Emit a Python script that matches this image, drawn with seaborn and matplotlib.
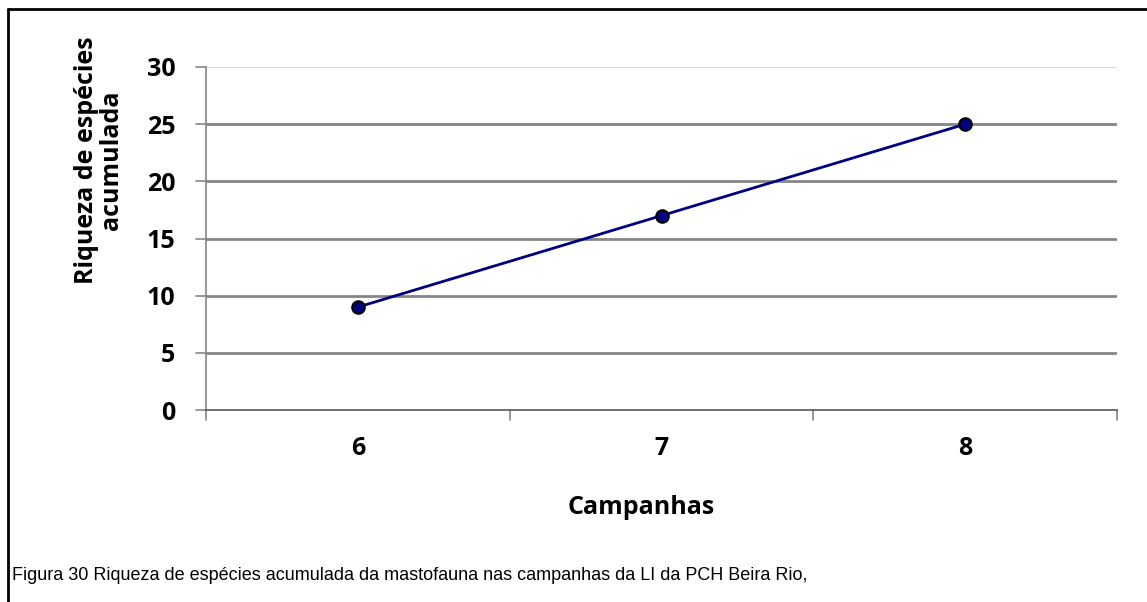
import matplotlib
matplotlib.use("Agg")
import matplotlib.pyplot as plt
import seaborn as sns
import pandas as pd
from matplotlib.lines import Line2D

# chart data
campanhas = ["6", "7", "8"]
riqueza = [9, 17, 25]
y_ticks = [0, 5, 10, 15, 20, 25, 30]

df = pd.DataFrame({"Campanhas": campanhas, "Riqueza": riqueza})

sns.set_theme(style="white")
plt.rcParams["font.family"] = ["Open Sans", "DejaVu Sans"]
plt.rcParams["text.color"] = "black"
plt.rcParams["xtick.color"] = "black"
plt.rcParams["ytick.color"] = "black"

fig = plt.figure(figsize=(11.47, 6.02), dpi=100)
ax = fig.add_axes([206 / 1147, 1 - 410 / 602, 911 / 1147, 343 / 602])

# horizontal grid lines (top one lighter, like the original)
for y in y_ticks[1:-1]:
    ax.axhline(y, color="#868686", linewidth=2, zorder=1)
ax.axhline(30, color="#d9d9d9", linewidth=1.5, zorder=1)

sns.lineplot(data=df, x="Campanhas", y="Riqueza", ax=ax, color="#000080",
             linewidth=2, marker="o", markersize=9, markerfacecolor="#000080",
             markeredgecolor="black", markeredgewidth=1.5, zorder=3)

ax.set_xlim(-0.5, 2.5)
ax.set_ylim(0, 30)
ax.set_yticks(y_ticks)
ax.set_xticks(range(len(campanhas)))
ax.set_xticklabels(campanhas)
ax.tick_params(axis="both", labelsize=18, length=0, labelcolor="black")
ax.tick_params(axis="y", pad=22)
ax.tick_params(axis="x", pad=19)
for lab in ax.get_xticklabels() + ax.get_yticklabels():
    lab.set_fontweight("bold")

# category separator ticks on the x axis and y ticks outside
for xb in [-0.5, 0.5, 1.5, 2.5]:
    ax.plot([xb, xb], [0, -0.9], color="#868686", linewidth=1.2, clip_on=False)
for y in y_ticks:
    ax.plot([-0.5 - 0.033, -0.5], [y, y], color="#868686", linewidth=1.2, clip_on=False)

for side in ["top", "right"]:
    ax.spines[side].set_visible(False)
ax.spines["left"].set_color("#868686")
ax.spines["left"].set_linewidth(1.2)
ax.spines["bottom"].set_color("#595959")
ax.spines["bottom"].set_linewidth(1.2)

ax.set_xlabel("")
ax.set_ylabel("")
fig.text(641 / 1147, 1 - 508 / 602, "Campanhas", fontsize=18, fontweight="bold",
         ha="center", va="center")
fig.text(99 / 1147, 1 - 160 / 602, "Riqueza de espécies\nacumulada", fontsize=18,
         fontweight="bold", rotation=90, ha="center", va="center", linespacing=1.0)

fig.text(12 / 1147, 1 - 575 / 602,
         "Figura 30 Riqueza de espécies acumulada da mastofauna nas campanhas da LI da PCH Beira Rio,",
         fontsize=13, family=["Liberation Sans", "DejaVu Sans"], ha="left", va="center",
         color="black")

# page frame: left and top borders
fig.add_artist(Line2D([8 / 1147, 8 / 1147], [0, 1 - 9 / 602], transform=fig.transFigure,
                      color="black", linewidth=2))
fig.add_artist(Line2D([8 / 1147, 1], [1 - 9 / 602, 1 - 9 / 602], transform=fig.transFigure,
                      color="black", linewidth=2))

fig.savefig("out.png", dpi=100)
